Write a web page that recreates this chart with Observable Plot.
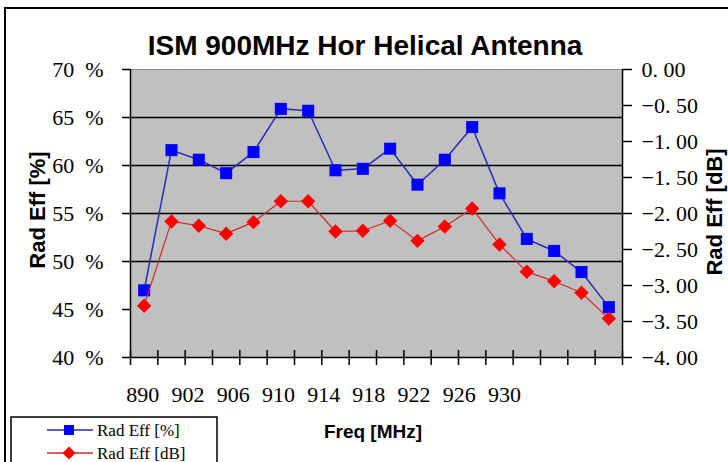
<!DOCTYPE html>
<html><head><meta charset="utf-8">
<script src="https://cdn.jsdelivr.net/npm/d3@7"></script>
<script src="https://cdn.jsdelivr.net/npm/@observablehq/plot@0.6"></script>
<style>html,body{margin:0;padding:0;background:#fff;overflow:hidden}</style>
</head><body><div id="chart"></div>
<script>
const freqLabels = ["890","902","906","910","914","918","922","926","930"];
const radEffPct = [47.0,61.6,60.6,59.2,61.4,65.9,65.7,59.5,59.65,61.75,58.0,60.6,64.0,57.1,52.35,51.1,48.9,45.25];
const radEffDb = [-3.28,-2.11,-2.17,-2.28,-2.12,-1.83,-1.83,-2.25,-2.24,-2.10,-2.38,-2.18,-1.93,-2.43,-2.81,-2.94,-3.10,-3.46];
const pctTicks = [40,45,50,55,60,65,70];
const pctGrid = [50,55,60,65];
const dbTicks = [0,-0.5,-1,-1.5,-2,-2.5,-3,-3.5,-4];
const seriesNames = ["Rad Eff [%]","Rad Eff [dB]"];

const nPoints = radEffPct.length;
// right (dB) axis [-4,0] shares the left (%) axis range [40,70]
const dbToPct = d => 40 + (d + 4) * 7.5;
const pctToDb = p => Math.round(((p - 40) / 7.5 - 4) * 100) / 100;
const fmtDb = d => (d < 0 ? "\u2212" : "") + Math.abs(d).toFixed(2).replace(".", ". ");

// category label layout (as drawn by the original spreadsheet: labels packed tighter than points)
const labelOffset = 0.446, labelStep = 1.655;
const labelPos = freqLabels.map((f, k) => labelOffset + k * labelStep);
const labelAt = p => freqLabels[Math.round((p - labelOffset) / labelStep)];

const rows = radEffPct.map((v, i) => ({i, pos: i + 0.5, pct: v, db: radEffDb[i]}));

const chart = Plot.plot({
  width: 728, height: 462,
  marginLeft: 130, marginRight: 106, marginTop: 69, marginBottom: 105,
  x: {type: "linear", domain: [0, nPoints], axis: null},
  y: {domain: [40, 70], axis: null},
  style: {fontFamily: "'Liberation Serif', serif", fontSize: "22px", color: "black", background: "transparent", overflow: "visible"},
  marks: [
    Plot.frame({fill: "#c0c0c0", stroke: null}),
    Plot.ruleY([70], {stroke: "#8a8a8a", strokeWidth: 1}),
    Plot.ruleY(pctGrid, {stroke: "black", strokeWidth: 1.5}),
    Plot.ruleX([0, nPoints], {stroke: "black", strokeWidth: 1.5}),
    Plot.ruleY([40], {stroke: "black", strokeWidth: 1.5}),
    Plot.ruleX(d3.range(nPoints + 1), {insetTop: 281, insetBottom: -8, stroke: "black", strokeWidth: 1.5}),
    Plot.axisY(pctTicks, {anchor: "left", tickSize: 8, tickPadding: 19, strokeWidth: 1.5, tickFormat: d => `${d}\u2002%`, label: null}),
    Plot.axisY(dbTicks.map(dbToPct), {anchor: "right", tickSize: 9, tickPadding: 10, strokeWidth: 1.5, tickFormat: p => fmtDb(pctToDb(p)), label: null}),
    Plot.axisX(labelPos, {anchor: "bottom", tickSize: 0, tickPadding: 29, tickFormat: labelAt, label: null}),
    Plot.line(rows, {x: "pos", y: "pct", stroke: "#2a2ab4", strokeWidth: 1.5}),
    Plot.dot(rows, {x: "pos", y: "pct", symbol: "square", r: 6.8, fill: "#0000ff", stroke: "none"}),
    Plot.line(rows, {x: "pos", y: d => dbToPct(d.db), stroke: "#cc2a2a", strokeWidth: 1.2}),
    Plot.dot(rows, {x: "pos", y: d => dbToPct(d.db), symbol: "diamond2", r: 6.5, fill: "#ff0000", stroke: "none"})
  ]
});
document.getElementById("chart").appendChild(chart);

const svg = d3.select(chart);
// outer chart border
svg.append("path").attr("d", "M5,470V8H740").attr("fill", "none").attr("stroke", "black").attr("stroke-width", 2);

const sans = "'Liberation Sans', Arial, sans-serif";
svg.append("text").attr("x", 365).attr("y", 55).attr("text-anchor", "middle")
  .attr("font-family", sans).attr("font-weight", "bold").attr("font-size", 28).text("ISM 900MHz Hor Helical Antenna");
svg.append("text").attr("transform", "translate(45,210) rotate(-90)").attr("text-anchor", "middle")
  .attr("font-family", sans).attr("font-weight", "bold").attr("font-size", 22).text("Rad Eff [%]");
svg.append("text").attr("transform", "translate(722,212) rotate(-90)").attr("text-anchor", "middle")
  .attr("font-family", sans).attr("font-weight", "bold").attr("font-size", 22).text("Rad Eff [dB]");
svg.append("text").attr("x", 373).attr("y", 438).attr("text-anchor", "middle")
  .attr("font-family", sans).attr("font-weight", "bold").attr("font-size", 19).text("Freq [MHz]");

// legend
const lg = svg.append("g");
lg.append("rect").attr("x", 11).attr("y", 417).attr("width", 206).attr("height", 70)
  .attr("fill", "white").attr("stroke", "black").attr("stroke-width", 1.5);
const items = [
  {name: seriesNames[0], y: 430, line: "#2a2ab4", fill: "#0000ff", sym: d3.symbolSquare, size: 100},
  {name: seriesNames[1], y: 453, line: "#cc2a2a", fill: "#ff0000", sym: d3.symbolDiamond2, size: 110}
];
items.forEach(it => {
  lg.append("line").attr("x1", 47).attr("x2", 93).attr("y1", it.y).attr("y2", it.y).attr("stroke", it.line).attr("stroke-width", 1.5);
  lg.append("path").attr("transform", `translate(69,${it.y})`).attr("d", d3.symbol(it.sym, it.size)()).attr("fill", it.fill);
  lg.append("text").attr("x", 97).attr("y", it.y + 6).attr("text-anchor", "start")
    .attr("font-family", "'Liberation Serif', serif").attr("font-size", 17).text(it.name);
});
</script>
</body></html>
